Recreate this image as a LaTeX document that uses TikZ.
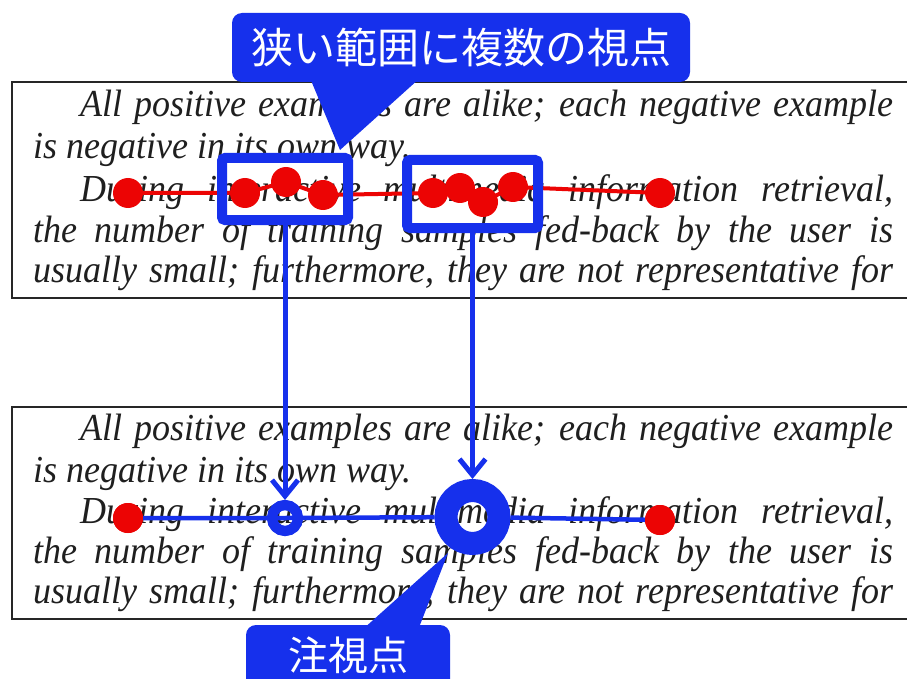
\documentclass[tikz,border=0pt]{standalone}
\usepackage{fontspec}
\setmainfont{Liberation Serif}
\newfontfamily\jfont{Noto Sans CJK JP}
\usetikzlibrary{arrows.meta}
\definecolor{cblue}{RGB}{22,48,236}
\definecolor{cred}{RGB}{236,4,4}
\tikzset{
  txt/.style={anchor=base west, inner sep=0pt, font=\fontsize{36}{42}\selectfont\itshape, text=black!88},
  panel/.style={draw=black!85, line width=1.6pt},
  dot/.style={circle, fill=cred, minimum size=30pt, inner sep=0pt},
  redline/.style={draw=cred, line width=4pt},
  blueline/.style={draw=cblue, line width=4.5pt},
  selbox/.style={draw=cblue, line width=10pt, rounded corners=3pt, inner sep=0pt},
  ring/.style={circle, draw=cblue, inner sep=0pt},
  garrow/.style={draw=cblue, line width=5pt, -{Straight Barb[length=16pt,width=26pt]}},
  callout/.style={fill=cblue, rounded corners=10pt, text=white, inner sep=0pt}
}
\newcommand{\vtext}[1]{\scalebox{1}[1.06]{#1}}
\begin{document}
\begin{tikzpicture}[x=1pt,y=-1pt]
\useasboundingbox (0,0) rectangle (907,679);
\clip (0,0) rectangle (907,679);
\fill[white] (0,0) rectangle (907,679);

% ---------- top panel ----------
\draw[panel] (910,82) -- (12,82) -- (12,298) -- (910,298);
\node[txt] (ta1) at (80,117) {\vtext{\makebox[813pt][s]{All positive examples are alike; each negative example}}};
\node[txt] (ta2) at (33,159) {\vtext{is negative in its own way.}};
\node[txt] (ta3) at (80,201) {\vtext{\makebox[813pt][s]{During interactive multimedia information retrieval,}}};
\node[txt] (ta4) at (33,242) {\vtext{\makebox[860pt][s]{the number of training samples fed-back by the user is}}};
\node[txt] (ta5) at (33,282) {\vtext{\makebox[860pt][s]{usually small; furthermore, they are not representative for}}};

% ---------- bottom panel ----------
\draw[panel] (910,407) -- (12,407) -- (12,619) -- (910,619);
\node[txt] (tb1) at (80,440) {\vtext{\makebox[813pt][s]{All positive examples are alike; each negative example}}};
\node[txt] (tb2) at (33,482) {\vtext{is negative in its own way.}};
\node[txt] (tb3) at (80,523) {\vtext{\makebox[813pt][s]{During interactive multimedia information retrieval,}}};
\node[txt] (tb4) at (33,563) {\vtext{\makebox[860pt][s]{the number of training samples fed-back by the user is}}};
\node[txt] (tb5) at (33,603) {\vtext{\makebox[860pt][s]{usually small; furthermore, they are not representative for}}};

% ---------- top: scan path ----------
\coordinate (p1) at (128,193);
\coordinate (p2) at (245,193);
\coordinate (p3) at (286,182);
\coordinate (p4) at (323,195);
\coordinate (p5) at (433,193);
\coordinate (p6) at (460,188);
\coordinate (p7) at (483,202);
\coordinate (p8) at (513,187);
\coordinate (p9) at (660,193);
\draw[redline] (p1) -- (p2) -- (p3) -- (p4) -- (p5) -- (p6) -- (p7) -- (p8) -- (p9);
\foreach \i in {1,...,9} { \node[dot] (d\i) at (p\i) {}; }

% selection boxes
\node[selbox, minimum width=126pt, minimum height=62pt] (b1) at (285,189) {};
\node[selbox, minimum width=131pt, minimum height=68pt] (b2) at (472.5,194) {};

% ---------- bottom: fixation ----------
\node[ring, line width=10pt, minimum size=26pt] (r1) at (285,518) {};
\node[ring, line width=23pt, minimum size=53pt] (r2) at (472.5,517) {};
\node[dot] (e1) at (128,518) {};
\node[dot] (e2) at (660,520) {};
\draw[blueline] (e1.center) -- (r1.center) -- (r2);
\draw[blueline] (r2) -- (e2.center);
\node[ring, line width=10pt, minimum size=26pt] at (r1) {};
\node[dot] at (e1) {};
\node[dot] at (e2) {};

% arrows
\draw[garrow] (b1.south) -- (r1.north);
\draw[garrow] (b2.south) -- (r2.north);

% ---------- callouts ----------
\node[callout, minimum width=458pt, minimum height=69pt] (c1) at (461,47.5)
  {\fontsize{42}{50}\selectfont\jfont 狭い範囲に複数の視点};
\coordinate (c1tip) at (340,150);
\fill[cblue] (310,78) -- (c1tip) -- (420,78) -- cycle;

\node[callout, minimum width=204pt, minimum height=76pt] (c2) at (348,663) {};
\node[text=white, inner sep=0pt, font=\fontsize{40}{48}\selectfont\jfont] (c2t) at (348,655) {注視点};
\coordinate (c2tip) at (448,553);
\fill[cblue] (362,630) -- (c2tip) -- (418,630) -- cycle;
\end{tikzpicture}
\end{document}
